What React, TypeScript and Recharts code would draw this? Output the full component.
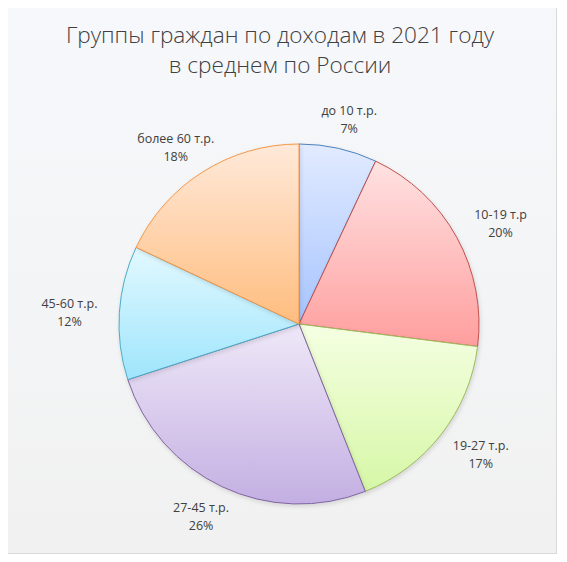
import React from 'react';
import { PieChart, Pie, Cell } from 'recharts';

const categories = ['до 10 т.р.', '10-19 т.р', '19-27 т.р.', '27-45 т.р.', '45-60 т.р.', 'более 60 т.р.'];
const shares = [7, 20, 17, 26, 12, 18];
const strokeColors = ['#4f81bd', '#c0504d', '#9bbb59', '#8064a2', '#4bacc6', '#f79646'];
const topColors = ['#e2ebff', '#ffe2e2', '#f5ffe2', '#efe8f8', '#e2f9ff', '#ffe9d9'];
const bottomColors = ['#a6c4ff', '#ff9e9e', '#d6f7a6', '#c3afe2', '#9fe5fc', '#ffbd7f'];

const data = categories.map((name, i) => ({ name, value: shares[i] }));

const RADIAN = Math.PI / 180;
const FONT = '"Open Sans", "Noto Sans", sans-serif';

// label box sits just outside the rim, pushed out by half its size
function renderLabel({ cx, cy, midAngle, outerRadius, index }: any) {
  const dx = Math.cos(-midAngle * RADIAN);
  const dy = Math.sin(-midAngle * RADIAN);
  const r = outerRadius + 14;
  const x = cx + r * dx + dx * 36;
  const y = cy + r * dy + dy * 17;
  return (
    <text x={x} y={y} textAnchor="middle" fill="#404040" fontSize={12.5} fontFamily={FONT}>
      <tspan x={x} dy={-3}>{categories[index]}</tspan>
      <tspan x={x} dy={18}>{shares[index]}%</tspan>
    </text>
  );
}

export default function App() {
  return (
    <div style={{ position: 'relative', width: 567, height: 562, margin: -8 }}>
      <style>{'.pie-shadow .recharts-pie-sector { filter: drop-shadow(1px 2px 2px rgba(0,0,0,0.12)); }'}</style>
      <div
        style={{
          position: 'absolute',
          left: 5,
          top: 5,
          width: 550,
          height: 547,
          border: '1px solid #d9d9d9',
          background: 'linear-gradient(to bottom, #f6f8fb, #f1f1f1)',
        }}
      />
      <div
        style={{
          position: 'absolute',
          left: 0,
          top: 20,
          width: 560,
          textAlign: 'center',
          fontFamily: FONT,
          fontWeight: 300,
          fontSize: 22.6,
          lineHeight: '30px',
          color: '#404040',
        }}
      >
        Группы граждан по доходам в 2021 году
        <br />
        в среднем по России
      </div>
      <div className="pie-shadow" style={{ position: 'absolute', left: 0, top: 0 }}>
        <PieChart width={567} height={562} margin={{ top: 0, right: 0, bottom: 0, left: 0 }}>
          <defs>
            {categories.map((c, i) => (
              <linearGradient key={c} id={`slice${i}`} x1="0" y1="0" x2="0" y2="1">
                <stop offset="0%" stopColor={topColors[i]} />
                <stop offset="100%" stopColor={bottomColors[i]} />
              </linearGradient>
            ))}
          </defs>
          <Pie
            data={data}
            dataKey="value"
            nameKey="name"
            cx={299}
            cy={324}
            outerRadius={180}
            startAngle={90}
            endAngle={-270}
            label={renderLabel}
            labelLine={false}
            isAnimationActive={false}
          >
            {data.map((d, i) => (
              <Cell key={d.name} fill={`url(#slice${i})`} stroke={strokeColors[i]} strokeWidth={1} />
            ))}
          </Pie>
        </PieChart>
      </div>
    </div>
  );
}
